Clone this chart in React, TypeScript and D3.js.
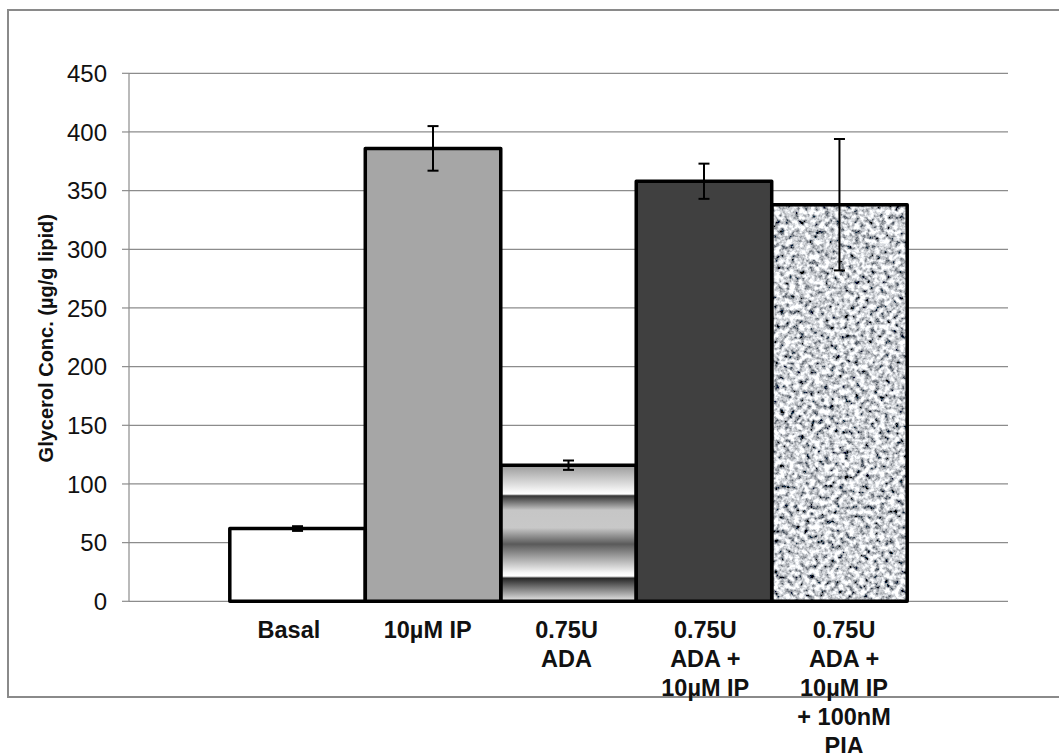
import React from "react";
import * as d3 from "d3";

const categories: string[][] = [
  ["Basal"],
  ["10µM IP"],
  ["0.75U", "ADA"],
  ["0.75U", "ADA +", "10µM IP"],
  ["0.75U", "ADA +", "10µM IP", "+ 100nM", "PIA"],
];
const means: number[] = [62, 386, 116, 358, 338];
const errors: number[] = [2, 19, 4, 15, 56];
const yTicks: number[] = [0, 50, 100, 150, 200, 250, 300, 350, 400, 450];
const fills: string[] = ["#ffffff", "#a6a6a6", "url(#adaGrad)", "#404040", "granite"];

const W = 1059;
const H = 753;
const FONT = "'Liberation Sans', Arial, Helvetica, sans-serif";

export default function App() {
  const ids = categories.map((_, i) => String(i));
  const y = d3.scaleLinear().domain([0, 450]).range([601.3, 73.3]);
  const x = d3.scaleBand<string>().domain(ids).range([129, 1008]).paddingInner(0).paddingOuter(0.744);
  const xl = d3.scaleBand<string>().domain(ids).range([127, 1006]).paddingInner(0).paddingOuter(0.667);
  const bw = x.bandwidth();
  const axisX = 129;
  const plotRight = 1008;

  return (
    <svg width={W} height={H} style={{ position: "absolute", left: 0, top: 0, background: "#fff" }}>
      <defs>
        <linearGradient id="adaGrad" x1="0" y1="0" x2="0" y2="1">
          <stop offset="0" stopColor="#9a9a9a" />
          <stop offset="0.19" stopColor="#f6f6f6" />
          <stop offset="0.212" stopColor="#ffffff" />
          <stop offset="0.225" stopColor="#353535" />
          <stop offset="0.33" stopColor="#c6c6c6" />
          <stop offset="0.46" stopColor="#c8c8c8" />
          <stop offset="0.58" stopColor="#5a5a5a" />
          <stop offset="0.79" stopColor="#f6f6f6" />
          <stop offset="0.815" stopColor="#ffffff" />
          <stop offset="0.83" stopColor="#262626" />
          <stop offset="0.98" stopColor="#d2d2d2" />
          <stop offset="1" stopColor="#d8d8d8" />
        </linearGradient>
        <filter id="graniteF" x="0" y="0" width="1" height="1" filterUnits="objectBoundingBox">
          <feTurbulence type="fractalNoise" baseFrequency="0.2" numOctaves={3} seed={7} result="n" />
          <feColorMatrix
            in="n"
            type="matrix"
            values="2.4 0 0 0 -0.58  2.4 0 0 0 -0.56  2.4 0 0 0 -0.53  0 0 0 0 1"
            result="g"
          />
          <feGaussianBlur in="g" stdDeviation="0.4" />
        </filter>
      </defs>

      {/* outer frame */}
      <rect x={8} y={10} width={1070} height={687} fill="none" stroke="#8a8a8a" strokeWidth={2} />

      {/* gridlines and ticks */}
      {yTicks.map((t) => (
        <g key={t}>
          <line x1={axisX} x2={plotRight} y1={y(t)} y2={y(t)} stroke="#8c8c8c" strokeWidth={1.2} />
          <line x1={122} x2={axisX} y1={y(t)} y2={y(t)} stroke="#8c8c8c" strokeWidth={1.2} />
          <text
            x={107}
            y={y(t)}
            dy="0.36em"
            textAnchor="end"
            fontFamily={FONT}
            fontSize={24}
            fill="#111"
          >
            {t}
          </text>
        </g>
      ))}
      <line x1={axisX} x2={axisX} y1={y(450)} y2={y(0)} stroke="#8c8c8c" strokeWidth={1.2} />

      {/* y label */}
      <text
        transform={`translate(53, ${(y(0) + y(450)) / 2 + 1}) rotate(-90)`}
        textAnchor="middle"
        fontFamily={FONT}
        fontWeight="bold"
        fontSize={20}
        fill="#111"
      >
        Glycerol Conc. (µg/g lipid)
      </text>

      {/* bars */}
      {means.map((m, i) => {
        const x0 = x(ids[i])!;
        const top = y(m);
        const h = y(0) - top;
        return (
          <g key={i}>
            {fills[i] === "granite" ? (
              <rect x={x0} y={top} width={bw} height={h} fill="#b0b0b0" filter="url(#graniteF)" />
            ) : (
              <rect x={x0} y={top} width={bw} height={h} fill={fills[i]} />
            )}
          </g>
        );
      })}
      {means.map((m, i) => {
        const x0 = x(ids[i])!;
        const top = y(m);
        const h = y(0) - top;
        return (
          <rect
            key={"o" + i}
            x={x0}
            y={top}
            width={bw}
            height={h}
            fill="none"
            stroke="#000"
            strokeWidth={3.5}
            strokeLinejoin="round"
          />
        );
      })}

      {/* error bars */}
      {means.map((m, i) => {
        const cx = x(ids[i])! + bw / 2;
        const hi = y(m + errors[i]);
        const lo = y(m - errors[i]);
        return (
          <g key={"e" + i} stroke="#000" strokeWidth={2}>
            <line x1={cx} x2={cx} y1={hi} y2={lo} />
            <line x1={cx - 5.5} x2={cx + 5.5} y1={hi} y2={hi} />
            <line x1={cx - 5.5} x2={cx + 5.5} y1={lo} y2={lo} />
          </g>
        );
      })}

      {/* x labels */}
      {categories.map((lines, i) => {
        const cx = xl(ids[i])! + xl.bandwidth() / 2;
        return (
          <text
            key={"l" + i}
            x={cx}
            y={638}
            textAnchor="middle"
            fontFamily={FONT}
            fontWeight="bold"
            fontSize={23.5}
            fill="#111"
          >
            {lines.map((ln, j) => (
              <tspan key={j} x={cx} y={638 + j * 29}>
                {ln}
              </tspan>
            ))}
          </text>
        );
      })}
    </svg>
  );
}
